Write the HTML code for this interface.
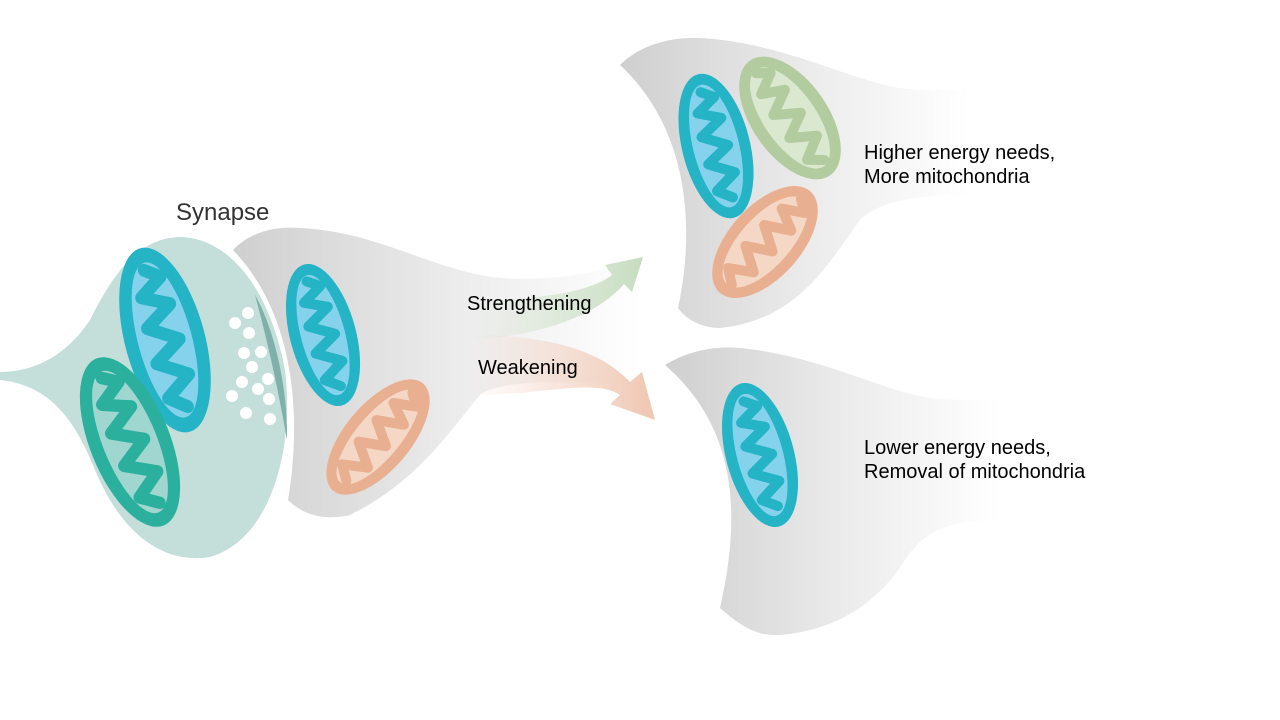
<!DOCTYPE html>
<html><head><meta charset="utf-8"><style>
html,body{margin:0;padding:0;background:#fff;}
svg{display:block;}
text{font-family:"Liberation Sans",Arial,sans-serif;}
</style></head><body>
<svg width="1280" height="720" viewBox="0 0 1280 720" xmlns="http://www.w3.org/2000/svg">
<defs>
<linearGradient id="gr" x1="0" y1="0" x2="1" y2="0">
<stop offset="0" stop-color="#cfcfcf"/><stop offset="0.55" stop-color="#ececec"/><stop offset="1" stop-color="#ffffff"/>
</linearGradient>
<linearGradient id="ga" x1="0" y1="0" x2="1" y2="0">
<stop offset="0" stop-color="#c6dcc0" stop-opacity="0"/><stop offset="0.5" stop-color="#c6dcc0" stop-opacity="0.5"/><stop offset="1" stop-color="#c6dcc0"/>
</linearGradient>
<linearGradient id="go" x1="0" y1="0" x2="1" y2="0">
<stop offset="0" stop-color="#f0c9b5" stop-opacity="0"/><stop offset="0.5" stop-color="#f0c9b5" stop-opacity="0.5"/><stop offset="1" stop-color="#efc6b1"/>
</linearGradient>
<g id="cr"><path d="M-2,-56 L10,-48 L-10,-36 L12,-26 L-12,-12 L12,2 L-12,16 L12,30 L-10,44 L4,54" fill="none" stroke-width="10" stroke-linejoin="round" stroke-linecap="round"/></g>
</defs>

<!-- presynaptic -->
<path d="M0,372 C40,372 70,350 90,320 C115,270 140,238 180,237 C230,238 270,290 285,370 C295,450 270,540 210,557 C160,565 120,530 95,470 C75,420 50,385 0,380 Z" fill="#c4deda"/>
<path d="M255,295 C275,330 288,390 287,440 C280,400 270,350 255,295 Z" fill="#7fb0aa"/>

<!-- postsynaptic 1 -->
<path d="M233,250 C250,232 275,226 300,228 C380,232 430,270 500,278 C560,282 600,270 640,262 L640,385 C560,380 500,380 480,395 C450,430 420,480 350,515 C320,522 300,512 288,500 C300,430 300,320 233,250 Z" fill="url(#gr)"/>

<!-- top right -->
<path d="M620,65 C640,45 670,37 700,38 C780,42 850,80 900,88 C930,92 950,90 970,88 L970,195 C920,195 880,200 860,220 C830,260 800,320 720,328 C700,328 685,318 678,308 C695,230 690,130 620,65 Z" fill="url(#gr)"/>
<!-- bottom right -->
<path d="M665,365 C690,350 715,346 740,348 C820,356 880,390 930,398 C950,400 965,400 1000,400 L1000,520 C950,520 925,530 905,560 C880,600 840,630 780,635 C760,636 745,630 720,608 C740,520 740,430 665,365 Z" fill="url(#gr)"/>

<!-- arrows -->
<path d="M470,300 C540,300 590,292 612,275 L605,265 L643,257 L632,292 L624,284 C600,312 550,335 470,340 Z" fill="url(#ga)"/>
<path d="M470,335 C560,335 605,355 630,382 L642,372 L655,420 L610,404 L620,395 C595,378 545,395 470,395 Z" fill="url(#go)"/>

<!-- mitochondria -->
<g transform="translate(165,340) rotate(-15)">
<ellipse rx="40" ry="95" fill="#25b3c6"/><ellipse rx="27" ry="80" fill="#85d2ec"/><use href="#cr" stroke="#25b3c6" transform="scale(1.2,1.3)"/></g>
<g transform="translate(130,442) rotate(-22)">
<ellipse rx="40" ry="90" fill="#2bb09e"/><ellipse rx="27" ry="76" fill="#9fd6d0"/><use href="#cr" stroke="#2bb09e" transform="scale(1.2,1.25)"/></g>
<g transform="translate(323,335) rotate(-15)">
<ellipse rx="33" ry="73" fill="#25b3c6"/><ellipse rx="22" ry="62" fill="#85d2ec"/><use href="#cr" stroke="#25b3c6"/></g>
<g transform="translate(378,437) rotate(40)">
<ellipse rx="33" ry="70" fill="#e8b090"/><ellipse rx="22" ry="59" fill="#f5d7c6"/><use href="#cr" stroke="#e8b090"/></g>
<g transform="translate(716,146) rotate(-14)">
<ellipse rx="34" ry="74" fill="#25b3c6"/><ellipse rx="23" ry="63" fill="#85d2ec"/><use href="#cr" stroke="#25b3c6"/></g>
<g transform="translate(790,118) rotate(-35)">
<ellipse rx="38" ry="70" fill="#b2cca0"/><ellipse rx="26" ry="59" fill="#dbe8d0"/><use href="#cr" stroke="#b2cca0"/></g>
<g transform="translate(765,242) rotate(42)">
<ellipse rx="36" ry="68" fill="#e8b090"/><ellipse rx="25" ry="57" fill="#f5d7c6"/><use href="#cr" stroke="#e8b090"/></g>
<g transform="translate(760,455) rotate(-15)">
<ellipse rx="34" ry="74" fill="#25b3c6"/><ellipse rx="23" ry="63" fill="#85d2ec"/><use href="#cr" stroke="#25b3c6"/></g>

<!-- vesicles -->
<g fill="#fff">
<circle cx="235" cy="323" r="6"/><circle cx="248" cy="313" r="6"/><circle cx="249" cy="333" r="6"/>
<circle cx="244" cy="353" r="6"/><circle cx="261" cy="352" r="6"/><circle cx="252" cy="367" r="6"/>
<circle cx="242" cy="382" r="6"/><circle cx="258" cy="389" r="6"/><circle cx="268" cy="379" r="6"/>
<circle cx="232" cy="396" r="6"/><circle cx="269" cy="399" r="6"/><circle cx="246" cy="413" r="6"/><circle cx="270" cy="419" r="6"/>
</g>

<!-- labels -->
<text x="176" y="220" font-size="24" fill="#333">Synapse</text>
<text x="467" y="310" font-size="20" fill="#000">Strengthening</text>
<text x="478" y="374" font-size="20" fill="#000">Weakening</text>
<text x="864" y="159" font-size="20" fill="#000">Higher energy needs,</text>
<text x="864" y="183" font-size="20" fill="#000">More mitochondria</text>
<text x="864" y="454" font-size="20" fill="#000">Lower energy needs,</text>
<text x="864" y="478" font-size="20" fill="#000">Removal of mitochondria</text>
</svg>
</body></html>
